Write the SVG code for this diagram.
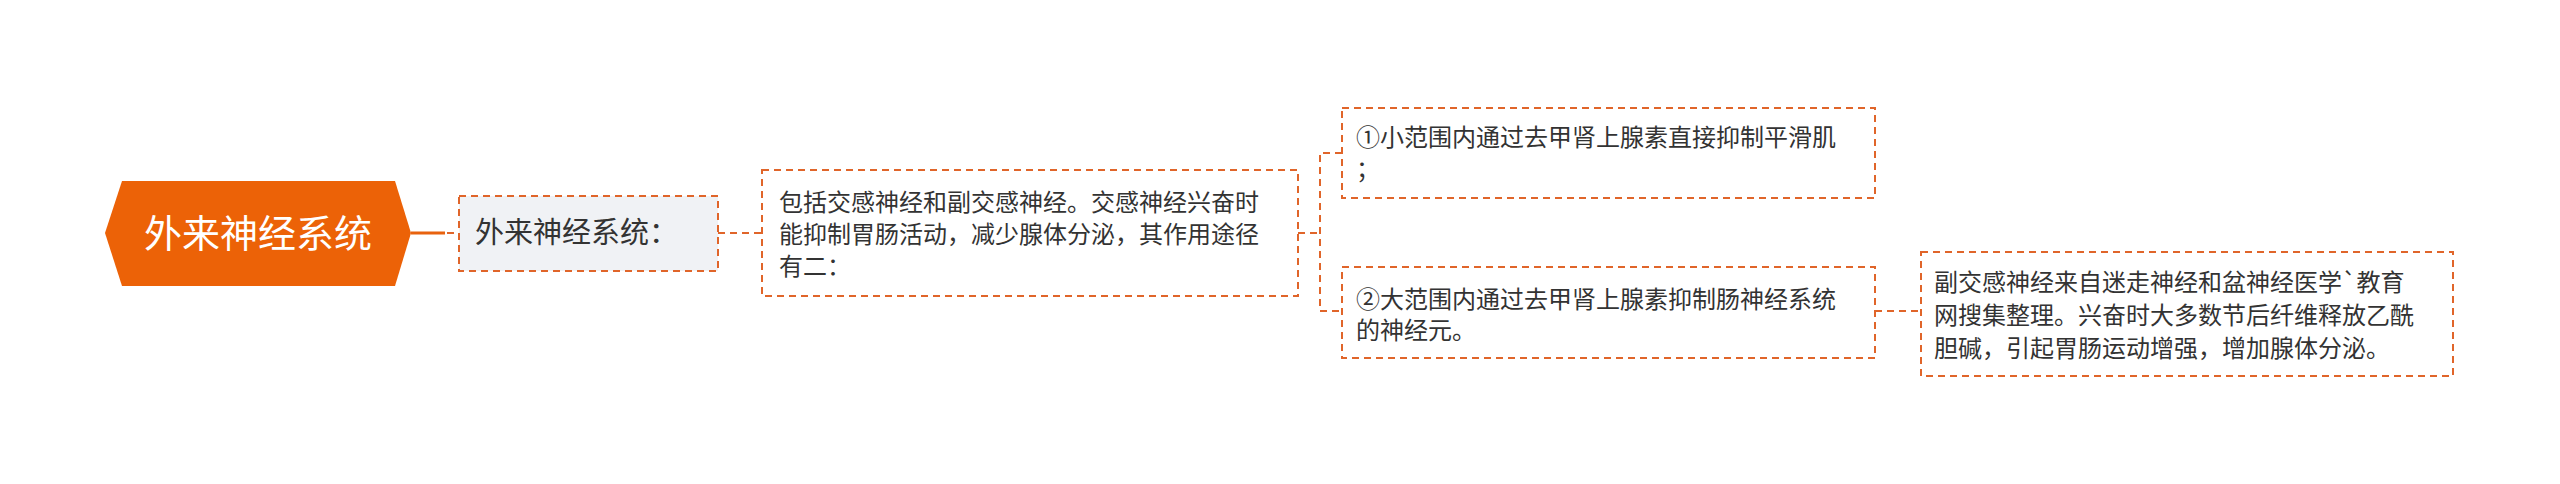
<svg xmlns="http://www.w3.org/2000/svg" width="2560" height="484" viewBox="0 0 2560 484">
<style>
text{font-family:"Noto Sans CJK SC","Liberation Sans",sans-serif;fill:#333}
.box{fill:#fff;stroke:#e0652a;stroke-width:2;stroke-dasharray:7 5}
.c{fill:none;stroke:#e0652a;stroke-width:2;stroke-dasharray:7 5}
.t{font-size:24px}
</style>
<rect width="2560" height="484" fill="#fff"/>
<g id="connectors">
<line x1="411" y1="233" x2="445" y2="233" stroke="#e8620e" stroke-width="3"/>
<line class="c" x1="447" y1="233" x2="459" y2="233"/>
<line class="c" x1="718" y1="233" x2="762" y2="233"/>
<path class="c" d="M1298 233H1320M1342 153H1320V311H1342"/>
<line class="c" x1="1875" y1="311" x2="1920" y2="311"/>
</g>
<g id="root">
<polygon points="122,181 395,181 411,233 395,286 122,286 105,233" fill="#ec6207"/>
<text x="258" y="247" text-anchor="middle" style="font-size:38px;fill:#fff">外来神经系统</text>
</g>
<g id="n2">
<rect class="box" x="459" y="196" width="259" height="75" style="fill:#f0f2f5"/>
<text x="475" y="243" style="font-size:29px">外来神经系统：</text>
</g>
<g id="n3">
<rect class="box" x="762" y="170" width="536" height="126"/>
<text class="t" x="779" y="211">包括交感神经和副交感神经。交感神经兴奋时</text>
<text class="t" x="779" y="243">能抑制胃肠活动，减少腺体分泌，其作用途径</text>
<text class="t" x="779" y="275">有二：</text>
</g>
<g id="n4">
<rect class="box" x="1342" y="108" width="533" height="90"/>
<text class="t" x="1356" y="146">①小范围内通过去甲肾上腺素直接抑制平滑肌</text>
<text class="t" x="1356" y="178">；</text>
</g>
<g id="n5">
<rect class="box" x="1342" y="267" width="533" height="91"/>
<text class="t" x="1356" y="308">②大范围内通过去甲肾上腺素抑制肠神经系统</text>
<text class="t" x="1356" y="339">的神经元。</text>
</g>
<g id="n6">
<rect class="box" x="1921" y="252" width="532" height="124"/>
<text class="t" x="1934" y="291">副交感神经来自迷走神经和盆神经医学`教育</text>
<text class="t" x="1934" y="324">网搜集整理。兴奋时大多数节后纤维释放乙酰</text>
<text class="t" x="1934" y="357">胆碱，引起胃肠运动增强，增加腺体分泌。</text>
</g>
</svg>
